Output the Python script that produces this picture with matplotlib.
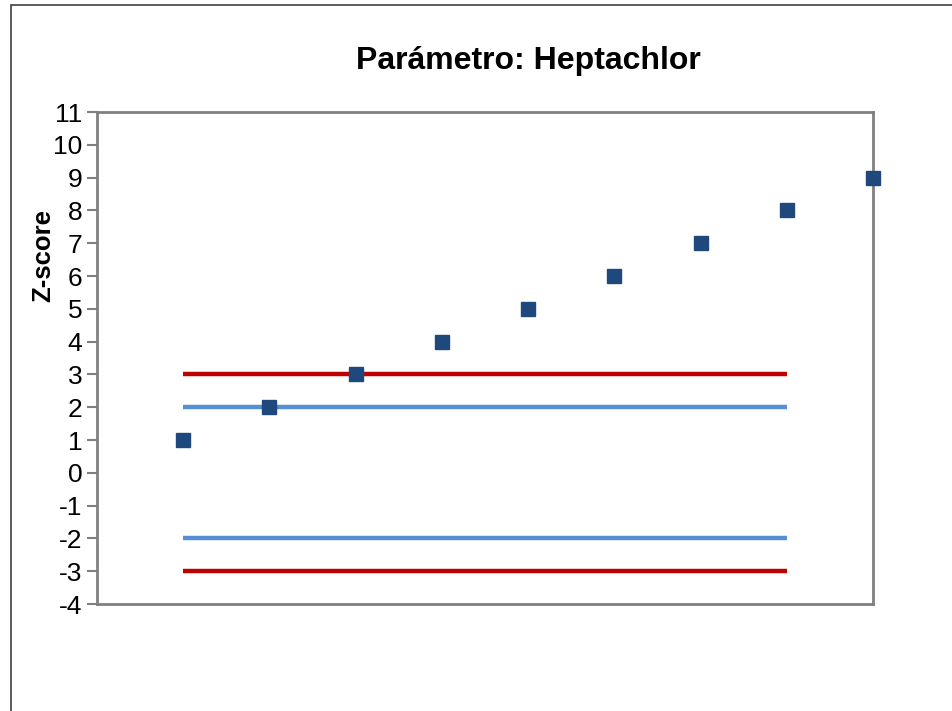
import matplotlib.pyplot as plt
from matplotlib.patches import Rectangle

# Data
x_points = [1, 2, 3, 4, 5, 6, 7, 8, 9]
z_scores = [1, 2, 3, 4, 5, 6, 7, 8, 9]
line_x = [1, 8]
limit_warn = [2, -2]
limit_action = [3, -3]
y_ticks = list(range(-4, 12))

plt.rcParams['font.family'] = ['Liberation Sans', 'DejaVu Sans']
plt.rcParams['axes.unicode_minus'] = False

fig = plt.figure(figsize=(9.52, 7.11), dpi=100)
ax = fig.add_axes([97 / 952, 1 - 604 / 711, 776 / 952, 492 / 711])

# Outer chart border (left and top visible)
fig.patches.append(Rectangle((10.5 / 952, -0.1), 1.2, 1 - 4.5 / 711 + 0.1,
                             transform=fig.transFigure, fill=False,
                             edgecolor='#404040', linewidth=1.2))

for v in limit_action:
    ax.plot(line_x, [v, v], color='#C00000', linewidth=3.2, solid_capstyle='butt', zorder=2)
for v in limit_warn:
    ax.plot(line_x, [v, v], color='#558ED5', linewidth=3.2, solid_capstyle='butt', zorder=2)

ax.plot(x_points, z_scores, linestyle='none', marker='s', markersize=10,
        color='#1F497D', markeredgecolor='#1F497D', clip_on=False, zorder=3)

ax.set_xlim(0, 9)
ax.set_ylim(-4, 11)
ax.set_yticks(y_ticks)
ax.set_yticklabels([str(t) for t in y_ticks])
ax.set_xticks([])
for s in ax.spines.values():
    s.set_color('#808080')
    s.set_linewidth(2)
ax.tick_params(axis='y', length=7.5, width=1.5, color='#808080', labelsize=19, pad=3)

fig.text(528 / 952, 1 - 69 / 711, 'Parámetro: Heptachlor', ha='center', va='baseline',
         fontsize=23, fontweight='bold')
fig.text(43 / 952, 1 - 256 / 711, 'Z-score', ha='center', va='center', rotation=90,
         fontsize=18.5, fontweight='bold')

fig.savefig('out.png', dpi=100)
